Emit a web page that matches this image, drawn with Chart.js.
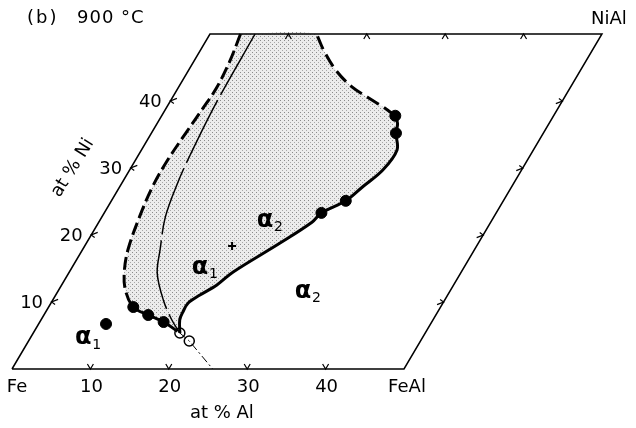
<!DOCTYPE html>
<html>
<head>
<meta charset="utf-8">
<script src="https://cdn.jsdelivr.net/npm/chart.js@4/dist/chart.umd.min.js"></script>
<style>
  html, body { margin: 0; padding: 0; background: #fff; }
  #wrap { width: 636px; height: 428px; }
</style>
</head>
<body>
<div id="wrap"><canvas id="chart" width="636" height="428"></canvas></div>
<script>
// Fe-Ni-Al isothermal section, 900 C. Points are [at% Al, at% Ni].
// The Ni axis leans to the right, so plot x = Al + SKEW * Ni, plot y = Ni.
const SKEW = 0.505;

const FRAME = [[0, 0], [50, 0], [50, 50], [0, 50], [0, 0]];
const AL_TICKS = [10, 20, 30, 40];
const NI_TICKS = [10, 20, 30, 40];

// alpha1 / (alpha1 + alpha2) boundary, dashed
const ALPHA1_EDGE = [[3.9, 50], [4.6, 45.8], [4.9, 41.9], [4.7, 38.9], [4.4, 35.4], [4.1, 31],
  [4.2, 27], [4.8, 22.7], [5.8, 17.8], [7.0, 14.5], [8.5, 11.8], [10.8, 9.25]];
const ALPHA1_DOTS = [[10.8, 9.25], [13.3, 8.06], [15.8, 7.01]];
const CROSSED = [[18.7, 5.37], [20.5, 4.18]];
const LONE_DOT = [[8.6, 6.72]];

// thin middle line
const MID_LINE = [[5.75, 50], [6.0, 39.4], [6.6, 31.9], [7.1, 27.8], [8.1, 22.7],
  [9.9, 17.8], [11.3, 14.3], [14.1, 10.3], [16.7, 7.31], [18.7, 5.37]];

// alpha2 boundary, solid part then dashed part
const ALPHA2_EDGE = [[18.7, 5.37], [17.7, 7.31], [17.5, 8.5], [17.5, 9.85], [18.4, 11.04],
  [19.8, 12.54], [20.9, 14.48], [24.7, 18.8], [27.2, 21.9], [27.7, 23.3], [29.9, 25.1],
  [31.0, 27.2], [32.3, 29.7], [32.6, 32.7], [31.2, 35.2], [30.7, 36.6], [29.8, 37.8]];
const ALPHA2_DOTS = [[27.7, 23.3], [29.9, 25.1], [31.2, 35.2], [29.8, 37.8]];
const UPPER_EDGE = [[29.8, 37.8], [28.8, 38.4], [27.6, 39.1], [24.8, 40.6], [22.1, 42.1],
  [18.9, 44.5], [15.8, 47.5], [13.6, 50]];

// dash-dot line to the Fe-Al side
const TIE_LINE = [[18.7, 5.37], [20.5, 4.18], [25.6, 0]];
const PLUS_MARK = [[18.8, 18.36]];

// phase labels: [text, subscript, Al, Ni]
const PHASES = [['α', '1', 6.9, 4.33], ['α', '1', 16.5, 14.8],
  ['α', '2', 21.2, 21.9], ['α', '2', 31.4, 11.3]];

const toXY = pts => pts.map(p => ({ x: p[0] + SKEW * p[1], y: p[1] }));

// stipple for the two-phase field
function stipple() {
  const c = document.createElement('canvas');
  c.width = 4; c.height = 4;
  const g = c.getContext('2d');
  g.fillStyle = '#ececec';
  g.fillRect(0, 0, 4, 4);
  g.fillStyle = '#8a8a8a';
  g.fillRect(0, 0, 1, 1);
  g.fillStyle = '#a8a8a8';
  g.fillRect(2, 2, 1, 1);
  return g.createPattern(c, 'repeat');
}

const shadePts = [...ALPHA1_EDGE, ...ALPHA1_DOTS.slice(1), ...ALPHA2_EDGE, ...UPPER_EDGE.slice(1), [3.9, 50]];

function line(data, width, dash, extra) {
  return Object.assign({
    data: toXY(data), showLine: true, borderColor: '#000', borderWidth: width,
    borderDash: dash, pointRadius: 0, tension: 0.35, fill: false, clip: false,
  }, extra || {});
}

function markers(data, style, radius, extra) {
  return Object.assign({
    data: toXY(data), showLine: false, pointStyle: style, pointRadius: radius,
    backgroundColor: '#000', borderColor: '#000', borderWidth: 1, clip: false,
  }, extra || {});
}

const labelPlugin = {
  id: 'labels',
  afterDatasetsDraw(chart) {
    const ctx = chart.ctx;
    const sx = chart.scales.x, sy = chart.scales.y;
    const P = (al, ni) => [sx.getPixelForValue(al + SKEW * ni), sy.getPixelForValue(ni)];

    // chevron ticks pointing into the diagram
    ctx.save();
    ctx.strokeStyle = '#000';
    ctx.lineWidth = 1.2;
    const chevron = (p, d, n) => {
      ctx.beginPath();
      ctx.moveTo(p[0] + 5 * n[0] - 3 * d[0], p[1] + 5 * n[1] - 3 * d[1]);
      ctx.lineTo(p[0], p[1]);
      ctx.lineTo(p[0] + 5 * n[0] + 3 * d[0], p[1] + 5 * n[1] + 3 * d[1]);
      ctx.stroke();
    };
    const a = P(0, 0), b = P(0, 50);
    const len = Math.hypot(b[0] - a[0], b[1] - a[1]);
    const sd = [(b[0] - a[0]) / len, (b[1] - a[1]) / len];
    AL_TICKS.forEach(t => {
      chevron(P(t, 0), [1, 0], [0, -1]);
      chevron(P(t, 50), [1, 0], [0, 1]);
    });
    NI_TICKS.forEach(t => {
      chevron(P(0, t), sd, [1, 0]);
      chevron(P(50, t), sd, [-1, 0]);
    });

    ctx.fillStyle = '#000';
    ctx.textAlign = 'center';
    ctx.textBaseline = 'middle';
    ctx.font = '18px "DejaVu Sans"';
    AL_TICKS.forEach(t => {
      const p = P(t, 0);
      ctx.fillText(String(t), p[0] + 1, p[1] + 18);
    });
    NI_TICKS.forEach(t => {
      const p = P(0, t);
      ctx.fillText(String(t), p[0] - 20, p[1] + 1);
    });
    let p = P(0, 0);
    ctx.fillText('Fe', p[0] + 5, p[1] + 18);
    p = P(50, 0);
    ctx.fillText('FeAl', p[0] + 3, p[1] + 18);
    p = P(50, 50);
    ctx.fillText('NiAl', p[0] + 7, p[1] - 15);
    p = P(30.1, -6.6);
    ctx.fillText('at % Al', p[0], p[1]);
    p = P(-7.4, 30);
    ctx.save();
    ctx.translate(p[0], p[1]);
    ctx.rotate(-58 * Math.PI / 180);
    ctx.fillText('at % Ni', 0, 0);
    ctx.restore();

    // panel title
    ctx.textAlign = 'left';
    ctx.letterSpacing = '2px';
    ctx.fillText('(b)', chart.chartArea.left + 27, chart.chartArea.top + 18);
    ctx.letterSpacing = '1px';
    ctx.fillText('900 °C', chart.chartArea.left + 77, chart.chartArea.top + 18);
    ctx.letterSpacing = '0px';

    // phase names
    PHASES.forEach(([t, s, al, ni]) => {
      const q = P(al, ni);
      ctx.textAlign = 'center';
      ctx.font = 'bold 24px "DejaVu Sans"';
      ctx.fillText(t, q[0], q[1] - 2);
      ctx.textAlign = 'left';
      ctx.font = '14px "DejaVu Sans"';
      ctx.fillText(s, q[0] + 9, q[1] + 5);
    });
    ctx.restore();
  }
};

new Chart(document.getElementById('chart'), {
  type: 'scatter',
  data: {
    datasets: [
      line(shadePts, 0, [], { fill: 'shape', backgroundColor: stipple(), order: 10 }),
      line(FRAME, 1.5, [], { tension: 0 }),
      line([...ALPHA1_EDGE, ...ALPHA1_DOTS.slice(1), CROSSED[0]], 3, [13, 5]),
      line(MID_LINE, 1.5, [70, 6]),
      line(ALPHA2_EDGE, 3, []),
      line(UPPER_EDGE, 3, [14, 6]),
      line(TIE_LINE, 1, [8, 3, 2, 3], { tension: 0 }),
      markers([...ALPHA1_DOTS, ...LONE_DOT, ...ALPHA2_DOTS], 'circle', 5.5),
      markers(CROSSED, 'circle', 5, { backgroundColor: '#fff', borderWidth: 1.5 }),
      markers(CROSSED, 'crossRot', 4, { borderWidth: 1.2 }),
      markers(PLUS_MARK, 'cross', 4, { borderWidth: 2 }),
    ]
  },
  options: {
    responsive: false,
    animation: false,
    layout: { padding: 0, autoPadding: false },
    scales: {
      x: { type: 'linear', min: -12 / 7.84, max: -12 / 7.84 + 636 / 7.84, display: false },
      y: { type: 'linear', min: -59 / 6.7, max: 369 / 6.7, display: false },
    },
    plugins: { legend: { display: false }, tooltip: { enabled: false } },
  },
  plugins: [labelPlugin],
});
</script>
</body>
</html>
